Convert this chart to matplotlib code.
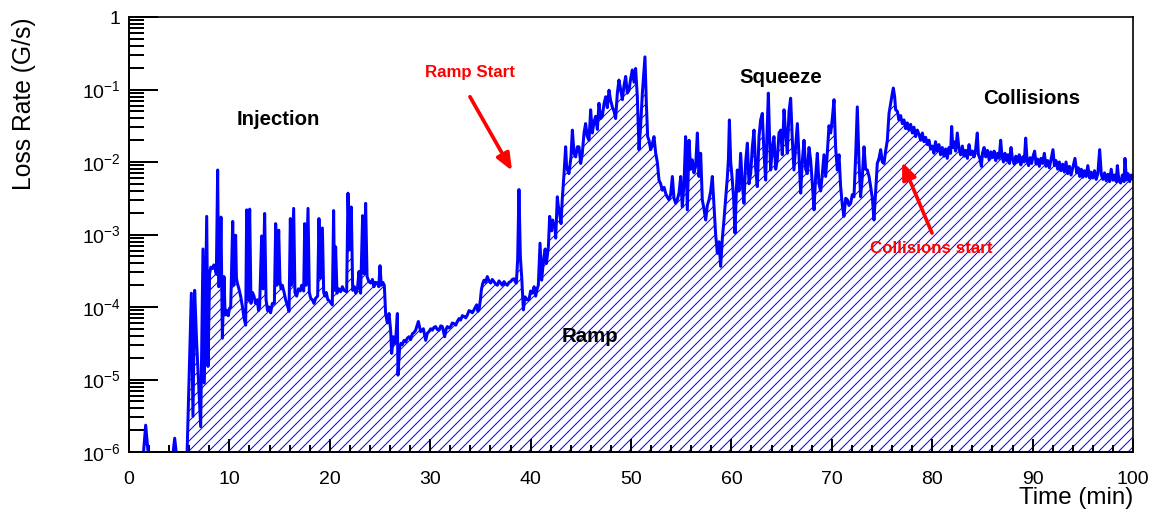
import numpy as np
import matplotlib
matplotlib.use("Agg")
import matplotlib.pyplot as plt
from matplotlib.ticker import LogLocator, MultipleLocator, FuncFormatter, NullFormatter

plt.rcParams['font.family'] = ['Liberation Sans', 'DejaVu Sans']
plt.rcParams['mathtext.default'] = 'regular'
plt.rcParams['hatch.linewidth'] = 0.6

# beam loss rate during one fill, values stored as log10 of G/s
# (anything below -6 sits under the axis and is clipped)
pre_t = [0.0, 1.30, 1.45, 1.66, 1.90, 2.10, 4.20, 4.40, 4.55, 4.70, 5.00, 5.60]
pre_log = [-6.5, -6.5, -6.0, -5.63, -6.0, -6.5, -6.5, -6.0, -5.81, -6.0, -6.5, -6.5]

inj_t = [5.75, 6.21, 6.37, 6.54, 6.74, 7.14, 7.37, 7.50, 7.74, 7.87, 8.03, 8.15, 8.30, 8.45,
         8.57, 8.70, 8.83, 8.93, 9.05, 9.16, 9.30, 9.46, 9.55, 9.63, 9.75, 9.89, 10.00, 10.13,
         10.33, 10.43, 10.62, 10.70, 10.79, 10.95, 11.12, 11.30, 11.45, 11.62, 11.72, 11.85,
         12.02, 12.15, 12.30, 12.45, 12.60, 12.78, 12.90, 13.01, 13.21, 13.35, 13.51, 13.65,
         13.80, 13.94, 14.10, 14.28, 14.48, 14.61, 14.74, 14.91, 15.04, 15.15, 15.27, 15.45,
         15.60, 15.78, 15.94, 16.07, 16.20, 16.40, 16.53, 16.70, 16.87, 17.05, 17.20, 17.40,
         17.50, 17.63, 17.83, 17.96, 18.10, 18.26, 18.42, 18.59, 18.79, 18.92, 19.06, 19.26,
         19.39, 19.52, 19.65, 19.80, 19.92, 20.25, 20.38, 20.48, 20.58, 20.72, 20.90, 21.08,
         21.25, 21.41, 21.68, 21.81, 21.95, 22.14, 22.28, 22.45, 22.58, 22.75, 22.91, 23.07,
         23.27, 23.41, 23.57, 23.71, 23.90, 24.07, 24.25, 24.40, 24.55, 24.73, 24.88, 25.00,
         25.13, 25.28, 25.43]
inj_log = [-6.2, -3.81, -5.51, -3.77, -4.5, -5.65, -3.20, -5.05, -2.75, -4.82, -3.54, -3.45, -3.47, -3.42,
           -3.47, -3.55, -2.11, -3.72, -3.70, -2.76, -4.43, -3.58, -4.0, -4.11, -4.05, -4.12, -4.02, -4.0,
           -2.82, -3.7, -3.01, -3.6, -3.67, -3.75, -3.85, -4.0, -4.15, -4.25, -2.66, -3.9,
           -2.65, -3.95, -3.8, -3.85, -3.95, -3.9, -4.05, -4.0, -3.02, -3.75, -2.71, -3.9,
           -4.05, -4.0, -4.08, -3.95, -3.95, -2.85, -3.7, -2.94, -3.65, -3.75, -3.7, -3.8,
           -3.9, -3.98, -4.06, -2.78, -3.7, -2.64, -3.8, -3.85, -3.75, -3.78, -3.7, -3.78,
           -2.85, -3.7, -2.64, -3.8, -3.88, -3.9, -3.95, -3.88, -3.85, -2.78, -3.6, -2.91,
           -3.8, -3.85, -3.8, -3.9, -3.91, -3.97, -2.67, -3.77, -3.17, -3.81, -3.75, -3.79,
           -3.72, -3.77, -3.79, -2.43, -3.21, -2.62, -3.77, -3.72, -3.81, -3.75, -3.51, -3.81,
           -2.74, -3.54, -2.57, -3.58, -3.65, -3.67, -3.62, -3.72, -3.66, -3.67, -3.72, -3.43,
           -3.70, -3.66, -3.70]

flat_t = [25.56, 25.73, 25.90, 26.06, 26.16, 26.33, 26.45, 26.56, 26.73, 26.79, 26.96, 27.10,
          27.22, 27.40, 27.56, 27.72, 27.89, 28.05, 28.22, 28.40, 28.55, 28.82, 29.05, 29.32,
          29.55, 29.72, 29.88, 30.05, 30.21, 30.38, 30.54, 30.70, 30.88, 31.05, 31.21, 31.44,
          31.60, 31.71, 31.88, 32.04, 32.20, 32.37, 32.55, 32.70, 32.87, 33.03, 33.20, 33.37,
          33.55, 33.70, 33.87, 34.03, 34.20, 34.36, 34.50, 34.63, 34.75, 34.86, 35.00, 35.09,
          35.22, 35.36, 35.50, 35.69, 35.85, 36.02, 36.18, 36.35, 36.50, 36.69, 36.85, 37.02,
          37.18, 37.35, 37.50, 37.68, 37.85, 38.01, 38.18, 38.35, 38.50, 38.58, 38.71]
flat_log = [-4.09, -4.22, -4.09, -4.32, -4.64, -4.41, -4.50, -4.46, -4.09, -4.94, -4.55, -4.50,
            -4.52, -4.46, -4.48, -4.43, -4.41, -4.45, -4.37, -4.35, -4.32, -4.20, -4.34, -4.30,
            -4.46, -4.36, -4.34, -4.30, -4.32, -4.28, -4.27, -4.31, -4.32, -4.26, -4.27, -4.41,
            -4.30, -4.27, -4.29, -4.27, -4.22, -4.23, -4.25, -4.20, -4.16, -4.18, -4.12, -4.13,
            -4.15, -4.11, -4.05, -4.06, -4.08, -4.04, -4.0, -3.97, -4.06, -4.04, -3.90, -3.77,
            -3.68, -3.63, -3.66, -3.58, -3.64, -3.67, -3.62, -3.65, -3.68, -3.70, -3.64, -3.67,
            -3.70, -3.65, -3.68, -3.70, -3.66, -3.65, -3.62, -3.61, -3.66, -3.67, -3.35]

ramp_t = [38.84, 38.98, 39.11, 39.28, 39.44, 39.67, 39.84, 40.00, 40.17, 40.35, 40.50, 40.65,
          40.77, 40.94, 41.10, 41.22, 41.33, 41.45, 41.57, 41.77, 41.90, 42.00, 42.10, 42.20,
          42.30, 42.40, 42.50, 42.66, 42.75, 42.83, 43.03, 43.16, 43.33, 43.49, 43.58, 43.66,
          43.82, 44.02, 44.16, 44.32, 44.49, 44.65, 44.82, 44.99, 45.15, 45.32, 45.48, 45.65,
          45.82, 45.98, 46.15, 46.31, 46.48, 46.65, 46.81, 46.98, 47.14, 47.31, 47.48, 47.64,
          47.81, 47.97, 48.14, 48.31, 48.47, 48.64, 48.80, 48.97, 49.14, 49.30, 49.47, 49.63,
          49.80, 49.97, 50.13, 50.30, 50.46, 50.63, 50.80, 50.96, 51.13, 51.29, 51.39, 51.53,
          51.66, 51.79, 51.96]
ramp_log = [-2.38, -3.31, -3.58, -4.04, -3.86, -3.90, -3.90, -3.78, -3.81, -3.72, -3.85, -3.75,
            -3.70, -3.12, -3.63, -3.45, -3.31, -3.20, -3.40, -3.17, -2.75, -2.90, -2.95, -2.80,
            -2.89, -2.85, -3.05, -2.48, -2.60, -2.65, -2.85, -2.50, -2.16, -1.79, -2.05, -2.10,
            -2.16, -1.93, -1.56, -1.88, -1.93, -1.79, -1.79, -2.02, -1.88, -1.60, -1.47, -1.65,
            -1.70, -1.28, -1.60, -1.45, -1.37, -1.55, -1.19, -1.40, -1.37, -1.20, -1.10, -1.25,
            -1.01, -1.15, -1.24, -1.30, -1.40, -1.05, -0.87, -1.00, -1.14, -0.95, -0.82, -1.05,
            -1.01, -0.85, -0.73, -0.90, -0.71, -1.10, -1.83, -1.50, -1.05, -0.75, -0.55, -1.20,
            -1.65, -1.70, -1.83]

squeeze_t = [52.12, 52.29, 52.46, 52.62, 52.79, 52.95, 53.12, 53.30, 53.45, 53.60, 53.78, 53.95,
             54.12, 54.28, 54.45, 54.61, 54.78, 54.95, 55.11, 55.28, 55.44, 55.61, 55.78, 55.94,
             56.11, 56.27, 56.44, 56.61, 56.77, 56.94, 57.10, 57.27, 57.44, 57.60, 57.77, 57.94,
             58.10, 58.27, 58.43, 58.60, 58.77, 58.93, 59.10, 59.26, 59.43, 59.60, 59.70, 59.80,
             59.93, 60.09, 60.22, 60.36, 60.49, 60.59, 60.76, 60.92, 61.09, 61.25, 61.42, 61.59,
             61.75, 61.92, 62.08, 62.25, 62.42, 62.58, 62.75, 62.91, 63.08, 63.25, 63.41, 63.55,
             63.68, 63.81, 63.91, 64.08, 64.24, 64.41, 64.57, 64.74, 64.91, 65.07, 65.24, 65.40,
             65.57, 65.74, 65.90, 66.07, 66.23, 66.40, 66.57, 66.73, 66.90, 67.06, 67.23, 67.40,
             67.56, 67.73, 67.89, 68.06, 68.23, 68.39, 68.56, 68.72, 68.89, 69.06, 69.22, 69.39,
             69.55, 69.72, 69.89, 70.05, 70.22, 70.38, 70.55, 70.72, 70.88, 71.05, 71.21, 71.38,
             71.55, 71.71, 71.88, 72.04, 72.21, 72.38, 72.54, 72.71, 72.87, 73.04, 73.21, 73.37,
             73.54, 73.71, 73.87, 74.04, 74.20, 74.37, 74.53, 74.70, 74.87, 75.03, 75.20, 75.36,
             75.53, 75.70, 75.86]
squeeze_log = [-1.75, -1.65, -1.88, -2.00, -2.25, -2.30, -2.39, -2.35, -2.43, -2.48, -2.52, -2.45,
               -2.20, -2.50, -2.57, -2.52, -2.43, -2.20, -2.62, -2.30, -1.65, -2.66, -1.70, -2.10,
               -1.97, -2.15, -2.06, -1.60, -2.20, -1.88, -2.52, -2.65, -2.80, -2.60, -2.52, -2.40,
               -2.20, -2.62, -3.00, -3.26, -3.10, -3.44, -3.05, -2.80, -2.50, -2.20, -1.97, -1.42,
               -2.0, -2.25, -2.5, -2.98, -2.4, -2.11, -2.4, -1.88, -2.3, -2.57, -2.0, -1.74,
               -2.3, -2.16, -1.80, -1.56, -2.1, -2.34, -1.65, -1.42, -1.33, -1.9, -2.25, -1.6,
               -1.05, -1.7, -2.11, -1.8, -1.65, -2.1, -1.97, -1.6, -1.56, -1.9, -1.28, -1.6,
               -1.88, -1.3, -1.12, -1.7, -2.11, -1.8, -1.47, -1.9, -2.43, -2.0, -1.70, -2.1,
               -2.16, -1.8, -1.97, -2.3, -2.66, -2.2, -1.88, -2.3, -2.4, -2.16, -1.9, -2.2,
               -1.88, -1.5, -1.60, -1.4, -1.14, -1.8, -2.11, -1.9, -2.34, -2.6, -2.75, -2.5,
               -2.52, -2.6, -2.57, -2.45, -2.48, -1.9, -1.24, -2.0, -2.48, -2.2, -1.79, -2.1,
               -2.11, -2.2, -2.34, -2.5, -2.80, -2.4, -2.02, -1.95, -1.83, -2.0, -2.02, -1.85,
               -1.70, -1.33, -1.19]

coll_t = [76.03, 76.13, 76.26, 76.36, 76.53, 76.69, 76.86, 77.02, 77.19, 77.36, 77.52, 77.69,
          77.85, 78.02, 78.18, 78.35, 78.52, 78.69, 78.85, 79.02, 79.18, 79.35, 79.52, 79.68,
          79.84, 80.00, 80.17, 80.33, 80.50, 80.67, 80.83, 81.00, 81.17, 81.33, 81.50, 81.67,
          81.83, 81.94, 82.05, 82.17, 82.33, 82.50, 82.67, 82.83, 83.00, 83.17, 83.33, 83.50,
          83.67, 83.83, 84.00, 84.17, 84.33, 84.49, 84.60, 84.75, 84.90, 85.00, 85.17, 85.33,
          85.50, 85.67, 85.83, 86.00, 86.17, 86.33, 86.50, 86.67, 86.82, 86.95, 87.10, 87.25,
          87.40, 87.55, 87.70, 87.85, 88.00, 88.17, 88.33, 88.50, 88.67, 88.83, 89.00, 89.17,
          89.31, 89.45, 89.60, 89.75, 89.90, 90.05, 90.20, 90.35, 90.50, 90.67, 90.83, 91.00,
          91.17, 91.33, 91.50, 91.67, 91.83, 92.03, 92.17, 92.33, 92.50, 92.67, 92.83, 93.00,
          93.17, 93.33, 93.50, 93.67, 93.83, 94.00, 94.22, 94.40, 94.55, 94.70, 94.85, 95.00,
          95.17, 95.33, 95.50, 95.67, 95.83, 96.00, 96.17, 96.33, 96.50, 96.68, 96.85, 97.00,
          97.17, 97.33, 97.50, 97.67, 97.83, 98.00, 98.17, 98.33, 98.44, 98.60, 98.77, 98.94,
          99.10, 99.20, 99.35, 99.50, 99.67, 99.83, 100.0]
coll_log = [-1.05, -0.98, -1.10, -1.28, -1.30, -1.42, -1.36, -1.47, -1.42, -1.54, -1.46, -1.56,
            -1.48, -1.60, -1.52, -1.65, -1.56, -1.62, -1.70, -1.60, -1.72, -1.66, -1.76, -1.70,
            -1.82, -1.78, -1.88, -1.72, -1.85, -1.76, -1.90, -1.80, -1.92, -1.82, -1.95, -1.80,
            -1.88, -1.51, -1.80, -1.72, -1.85, -1.60, -1.82, -1.90, -1.78, -1.92, -1.84, -1.95,
            -1.76, -1.90, -1.85, -1.93, -1.82, -1.60, -1.90, -1.95, -2.06, -1.88, -1.80, -1.93,
            -1.84, -1.97, -1.86, -1.94, -1.85, -1.98, -1.88, -1.95, -1.70, -1.92, -2.00, -1.88,
            -1.98, -1.90, -2.02, -1.80, -1.96, -2.03, -1.92, -2.00, -1.90, -2.04, -1.93, -2.00,
            -1.67, -1.98, -2.05, -1.94, -2.02, -1.92, -1.85, -2.03, -1.96, -2.06, -1.95, -2.02,
            -1.88, -2.06, -1.98, -2.08, -1.97, -1.83, -2.05, -1.98, -2.10, -2.00, -2.12, -2.03,
            -2.14, -2.00, -2.16, -2.06, -2.18, -2.08, -1.95, -2.15, -2.08, -2.20, -2.10, -2.21,
            -2.12, -2.20, -2.05, -2.22, -2.14, -2.22, -2.12, -2.24, -2.16, -1.83, -2.18, -2.24,
            -2.15, -2.26, -2.17, -2.27, -2.10, -2.25, -2.18, -2.27, -2.05, -2.26, -2.29, -2.18,
            -2.27, -1.95, -2.25, -2.16, -2.27, -2.18, -2.23]

time_min = np.concatenate([pre_t, inj_t, flat_t, ramp_t, squeeze_t, coll_t])
loss_rate = 10.0 ** np.concatenate([pre_log, inj_log, flat_log, ramp_log, squeeze_log, coll_log])

DPI = 120
W, H = 1153, 517
fig = plt.figure(figsize=(W / DPI, H / DPI), dpi=DPI)
ax = fig.add_axes([129 / W, 1 - 452 / H, 1004 / W, 435 / H])

# hatched area under the trace, then the trace itself
ax.fill_between(time_min, loss_rate, 1e-9, facecolor='none', edgecolor='blue',
                hatch='////', linewidth=0)
ax.plot(time_min, loss_rate, color='blue', lw=1.8)

ax.set_yscale('log')
ax.set_xlim(0, 100)
ax.set_ylim(1e-6, 1)

def exp_label(v, pos):
    n = int(round(np.log10(v)))
    if n == 0:
        return '1'
    return r'$10^{%d}$' % n

ax.yaxis.set_major_locator(LogLocator(base=10, numticks=10))
ax.yaxis.set_minor_locator(LogLocator(base=10, subs=np.arange(2, 10), numticks=20))
ax.yaxis.set_major_formatter(FuncFormatter(exp_label))
ax.yaxis.set_minor_formatter(NullFormatter())
ax.xaxis.set_major_locator(MultipleLocator(10))
ax.xaxis.set_minor_locator(MultipleLocator(2))
ax.xaxis.offsetText.set_visible(False)
ax.yaxis.offsetText.set_visible(False)

ax.tick_params(which='both', direction='in', top=False, right=False,
               color='black', width=1.2, labelsize=11.7)
ax.tick_params(axis='y', which='major', length=17.4, pad=5)
ax.tick_params(axis='y', which='minor', length=9)
ax.tick_params(axis='x', which='major', length=7.8, pad=11.5)
ax.tick_params(axis='x', which='minor', length=4.2)

for side in ['left', 'bottom']:
    ax.spines[side].set_linewidth(1.2)
for side in ['top', 'right']:
    ax.spines[side].set_linewidth(1.0)

ax.set_xlabel('Time (min)', fontsize=14.5, loc='right')
ax.xaxis.set_label_coords(1.0, -0.081)
ax.set_ylabel('Loss Rate (G/s)', fontsize=14.8, loc='top')
ax.yaxis.set_label_coords(-0.093, 1.0)

# phase names
phase_font = dict(fontsize=12.2, fontweight='bold', color='black', ha='center', va='center')
ax.text(14.9, 10 ** -1.41, 'Injection', **phase_font)
ax.text(45.9, 10 ** -4.41, 'Ramp', **phase_font)
ax.text(64.9, 10 ** -0.83, 'Squeeze', **phase_font)
ax.text(89.9, 10 ** -1.13, 'Collisions', **phase_font)

# red markers with arrows
arrow = dict(arrowstyle='-|>,head_length=0.6,head_width=0.25', color='red', lw=2.2,
             mutation_scale=14, shrinkA=0, shrinkB=0)
ax.text(33.96, 10 ** -0.77, 'Ramp Start', fontsize=10.1, fontweight='bold',
        color='red', ha='center', va='center')
ax.annotate('', xy=(38.15, 10 ** -2.12), xytext=(33.96, 10 ** -1.10), arrowprops=arrow)
ax.text(79.9, 10 ** -3.19, 'Collisions start', fontsize=10.1, fontweight='bold',
        color='red', ha='center', va='center')
ax.annotate('', xy=(77.0, 10 ** -2.0), xytext=(79.98, 10 ** -2.98), arrowprops=arrow)

fig.savefig('out.png', dpi=DPI)
